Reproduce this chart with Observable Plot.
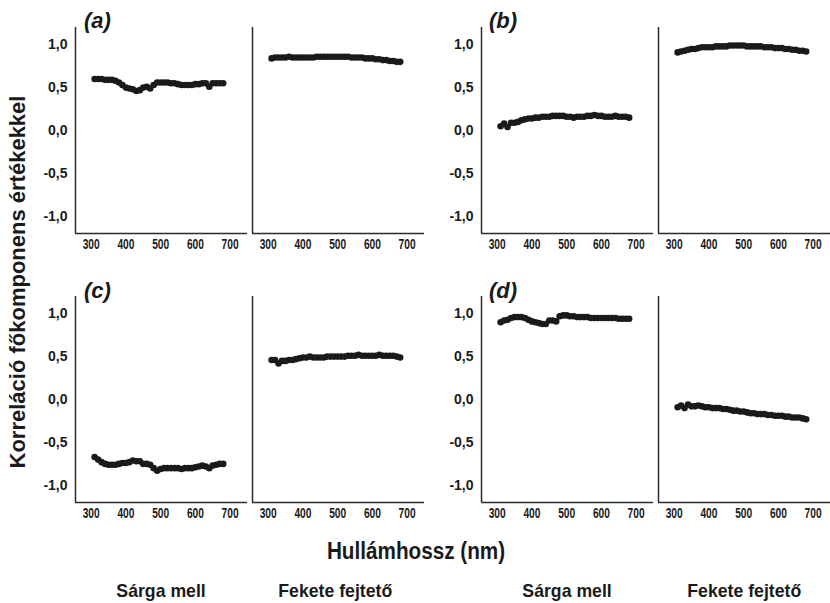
<!DOCTYPE html>
<html>
<head>
<meta charset="utf-8">
<script src="https://cdn.jsdelivr.net/npm/d3@7"></script>
<script src="https://cdn.jsdelivr.net/npm/@observablehq/plot@0.6"></script>
<style>
  html, body { margin: 0; padding: 0; background: #fff; }
  #root { position: relative; width: 830px; height: 603px; overflow: hidden; font-family: "Liberation Sans", Arial, sans-serif; color: #1a1a1a; }
  .abs { position: absolute; white-space: nowrap; font-weight: bold; }
  .panel-label { font-size: 22px; font-style: italic; }
  .ytitle { font-size: 22px; transform-origin: center center; }
  .xtitle { font-size: 23px; }
  .group { font-size: 19px; }
</style>
</head>
<body>
<div id="root"></div>
<script>
// Wavelengths (nm)
const wavelengths = [310,320,330,340,350,360,370,380,390,400,410,420,430,440,450,460,470,480,490,500,
  510,520,530,540,550,560,570,580,590,600,610,620,630,640,650,660,670,680];

// (a)
const aSarga = [0.60,0.60,0.60,0.59,0.59,0.59,0.58,0.56,0.53,0.50,0.49,0.48,0.46,0.47,0.50,0.51,0.49,0.53,0.56,0.56,
  0.56,0.56,0.55,0.55,0.54,0.53,0.53,0.53,0.53,0.54,0.54,0.55,0.55,0.51,0.55,0.55,0.55,0.55];
const aFekete = [0.84,0.85,0.85,0.85,0.85,0.86,0.85,0.85,0.85,0.85,0.85,0.85,0.85,0.86,0.86,0.86,0.86,0.86,0.86,0.86,
  0.86,0.86,0.86,0.85,0.85,0.85,0.85,0.84,0.84,0.84,0.83,0.83,0.82,0.82,0.81,0.81,0.80,0.80];
// (b)
const bSarga = [0.05,0.08,0.04,0.09,0.09,0.10,0.12,0.13,0.14,0.14,0.15,0.15,0.16,0.16,0.16,0.17,0.17,0.17,0.17,0.16,
  0.16,0.15,0.16,0.16,0.16,0.17,0.17,0.18,0.17,0.17,0.16,0.16,0.16,0.17,0.16,0.16,0.16,0.15];
const bFekete = [0.91,0.92,0.93,0.94,0.95,0.95,0.96,0.97,0.97,0.97,0.97,0.98,0.98,0.98,0.98,0.99,0.99,0.99,0.99,0.99,
  0.98,0.98,0.98,0.98,0.98,0.97,0.97,0.97,0.96,0.96,0.96,0.95,0.95,0.94,0.94,0.93,0.93,0.92];
// (c)
const cSarga = [-0.67,-0.70,-0.73,-0.75,-0.76,-0.76,-0.76,-0.75,-0.74,-0.74,-0.73,-0.71,-0.72,-0.72,-0.75,-0.75,-0.76,-0.80,-0.83,-0.81,
  -0.80,-0.80,-0.80,-0.80,-0.80,-0.81,-0.80,-0.80,-0.80,-0.79,-0.78,-0.77,-0.78,-0.80,-0.77,-0.76,-0.75,-0.75];
const cFekete = [0.46,0.46,0.42,0.45,0.45,0.46,0.46,0.47,0.48,0.49,0.49,0.50,0.49,0.49,0.49,0.49,0.50,0.50,0.50,0.50,
  0.50,0.50,0.51,0.51,0.51,0.52,0.51,0.51,0.51,0.51,0.51,0.52,0.51,0.51,0.51,0.51,0.50,0.49];
// (d)
const dSarga = [0.90,0.92,0.93,0.95,0.96,0.96,0.96,0.95,0.93,0.91,0.90,0.89,0.88,0.88,0.92,0.92,0.91,0.97,0.98,0.98,
  0.97,0.97,0.96,0.96,0.96,0.96,0.95,0.95,0.95,0.95,0.95,0.95,0.95,0.95,0.94,0.94,0.94,0.94];
const dFekete = [-0.09,-0.07,-0.10,-0.06,-0.08,-0.08,-0.07,-0.08,-0.09,-0.09,-0.10,-0.10,-0.10,-0.11,-0.11,-0.12,-0.13,-0.13,-0.14,-0.14,
  -0.15,-0.16,-0.16,-0.17,-0.17,-0.17,-0.18,-0.18,-0.19,-0.19,-0.19,-0.20,-0.20,-0.21,-0.21,-0.21,-0.22,-0.23];

const xTicks = [300, 400, 500, 600, 700];
const yTicks = [-1.0, -0.5, 0.0, 0.5, 1.0];
const panelLabels = ["(a)", "(b)", "(c)", "(d)"];
const groupLabels = ["Sárga mell", "Fekete fejtető"];
const yTitle = "Korreláció főkomponens értékekkel";
const xTitle = "Hullámhossz (nm)";

const root = document.getElementById("root");
const fmt = d => d.toFixed(1).replace(".", ",");

const FRAME_W = 172, FRAME_H = 206, MT = 5, MB = 31;
const colLeft = [75, 252, 481, 658];
const rowTop = [27, 296];

const series = [
  [aSarga, aFekete, bSarga, bFekete],
  [cSarga, cFekete, dSarga, dFekete]
];

function subplot(values, showY) {
  const data = wavelengths.map((nm, i) => ({nm, r: values[i]}));
  const ml = showY ? 60 : 4, mr = 4;
  const svg = Plot.plot({
    width: ml + FRAME_W + mr,
    height: MT + FRAME_H + MB,
    marginLeft: ml, marginRight: mr, marginTop: MT, marginBottom: MB,
    style: {background: "transparent", fontFamily: "'Liberation Sans', Arial, sans-serif", fontSize: "14px", fontWeight: "bold", color: "#1a1a1a", overflow: "visible"},
    x: {domain: [255, 750], ticks: xTicks, tickSize: 0, tickPadding: 5, label: null, tickFormat: d => String(d)},
    y: showY
      ? {domain: [-1.2, 1.2], ticks: yTicks, tickSize: 0, tickPadding: 8, label: null, tickFormat: fmt}
      : {domain: [-1.2, 1.2], axis: null},
    marks: [
      Plot.ruleX([255], {stroke: "#2a2a2a", strokeWidth: 1.5}),
      Plot.ruleY([-1.2], {stroke: "#2a2a2a", strokeWidth: 1.5}),
      Plot.dot(data, {x: "nm", y: "r", r: 3.3, fill: "#1a1a1a", stroke: "none"})
    ]
  });
  return {svg, ml};
}

series.forEach((row, ri) => {
  row.forEach((vals, ci) => {
    const showY = ci === 0 || ci === 2;
    const {svg, ml} = subplot(vals, showY);
    svg.style.position = "absolute";
    svg.style.left = (colLeft[ci] - ml) + "px";
    svg.style.top = (rowTop[ri] - MT) + "px";
    root.appendChild(svg);
    // condensed bold x tick labels, as in the original
    svg.querySelectorAll('[aria-label^="x-axis"] text').forEach(t => {
      t.style.fontSize = "15px";
      const len = t.getComputedTextLength();
      if (len > 0) {
        t.setAttribute("textLength", (len * 0.68).toFixed(2));
        t.setAttribute("lengthAdjust", "spacingAndGlyphs");
      }
    });
  });
});

function addText(text, cls, x, y, anchor, sx) {
  const d = document.createElement("div");
  d.className = "abs " + cls;
  d.textContent = text;
  root.appendChild(d);
  const w = d.offsetWidth, h = d.offsetHeight;
  d.style.left = (anchor === "center" ? x - w / 2 : x) + "px";
  d.style.top = (y - h / 2) + "px";
  if (sx) {
    d.style.transformOrigin = anchor === "center" ? "center center" : "left center";
    d.style.transform = `scaleX(${sx})`;
  }
  return d;
}

// panel labels
[[84, 21], [489, 21], [84, 291], [489, 291]].forEach(([x, y], i) => addText(panelLabels[i], "panel-label", x, y, "left"));

// y title
const yt = addText(yTitle, "ytitle", 18, 282, "center");
yt.style.transform = "rotate(-90deg)";

// x title
addText(xTitle, "xtitle", 416, 551, "center", 0.9);

// group labels
[161, 335, 567, 744].forEach((x, i) => addText(groupLabels[i % 2], "group", x, 591, "center", 0.93));
</script>
</body>
</html>
